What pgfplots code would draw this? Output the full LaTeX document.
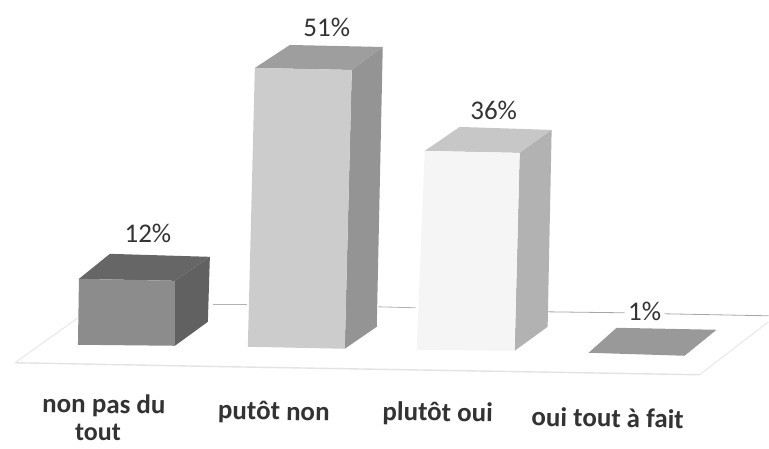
\documentclass[border=0pt]{standalone}
\usepackage{fontspec}
\setmainfont{Carlito}
\usepackage{pgfplots}
\pgfplotsset{compat=1.18}
\definecolor{txt}{gray}{0.2}
\tikzset{lab/.style={text=txt, font=\fontsize{27}{30}\selectfont, inner sep=0pt},
  cat/.style={text=txt, font=\fontsize{27}{30}\selectfont\bfseries, inner sep=0pt}}
\begin{document}
\begin{tikzpicture}
\begin{axis}[
  scale only axis, width=769pt, height=449pt,
  xmin=0, xmax=769, ymin=0, ymax=449, y dir=reverse,
  axis line style={draw=none}, xtick=\empty, ytick=\empty, clip=false,
]
% floor
\addplot[gray!22, line width=1.4pt] coordinates {(15,363) (230,367) (700,375)};
\addplot[gray!18, line width=1pt] coordinates {(15,363) (78,318)};
\addplot[gray!18, line width=1pt] coordinates {(700,375) (769,322)};
\addplot[gray!60, line width=0.8pt] coordinates {(213,305) (247,305)};
\addplot[gray!60, line width=0.8pt] coordinates {(378,307) (416,308)};
\addplot[gray!70, line width=0.8pt] coordinates {(546,312) (625,313)};
\addplot[gray!70, line width=0.8pt] coordinates {(665,314) (769,316)};
% bar 1 : 12%
\addplot[draw=none, fill=black!60] coordinates {(79,279) (175,281) (210,257) (110,254)} -- cycle;
\addplot[draw=none, fill=black!62] coordinates {(175,281) (210,257) (208,322) (175,346)} -- cycle;
\addplot[draw=none, fill=black!45] coordinates {(79,279) (175,281) (175,346) (78,345)} -- cycle;
% bar 2 : 51%
\addplot[draw=none, fill=black!38] coordinates {(255,68) (352,70) (383,47) (290,45)} -- cycle;
\addplot[draw=none, fill=black!42] coordinates {(352,70) (383,47) (377,327) (345,349)} -- cycle;
\addplot[draw=none, fill=black!20] coordinates {(255,68) (352,70) (345,349) (248,347)} -- cycle;
% bar 3 : 36%
\addplot[draw=none, fill=black!22] coordinates {(425,151) (520,153) (552,130) (460,127)} -- cycle;
\addplot[draw=none, fill=black!30] coordinates {(520,153) (552,130) (548,327) (515,351)} -- cycle;
\addplot[draw=none, fill=black!4] coordinates {(425,151) (520,153) (515,351) (417,350)} -- cycle;
% bar 4 : 1%
\addplot[draw=none, fill=black!40] coordinates {(589,353) (685,356) (717,330) (617,328)} -- cycle;
% labels
\node[lab] at (axis cs:148,234) {12\%};
\node[lab] at (axis cs:327,27) {51\%};
\node[lab] at (axis cs:494,110) {36\%};
\node[lab] at (axis cs:645,312) {1\%};
\node[cat,rotate=-1] at (axis cs:104,406) {non pas du};
\node[cat,font=\fontsize{26}{30}\selectfont\bfseries] at (axis cs:98,433) {tout};
\node[cat,rotate=-1] at (axis cs:274,413) {putôt non};
\node[cat,rotate=-1] at (axis cs:438,414) {plutôt oui};
\node[cat,rotate=-1] at (axis cs:608,418) {oui tout à fait};
\end{axis}
\end{tikzpicture}
\end{document}
